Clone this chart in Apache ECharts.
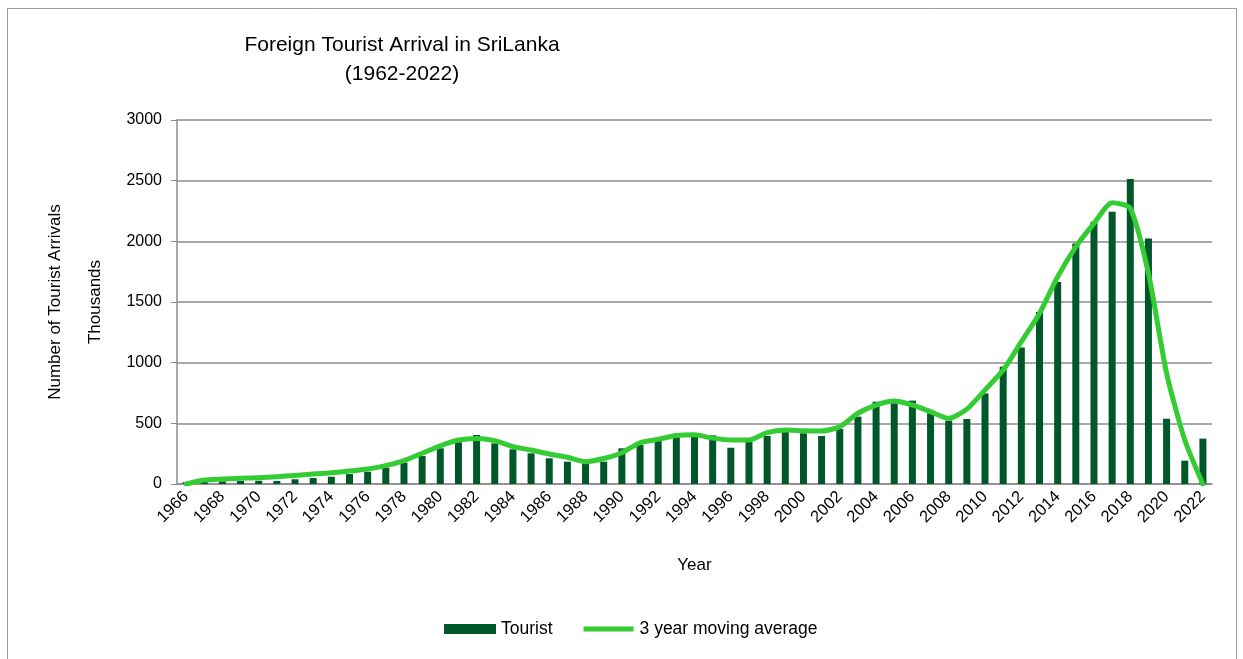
<!DOCTYPE html>
<html>
<head>
<meta charset="utf-8">
<script src="https://cdn.jsdelivr.net/npm/echarts@6/dist/echarts.min.js"></script>
<style>
	html, body { margin: 0; padding: 0; background: #fff; }
	#chart { width: 1243px; height: 659px; }
</style>
</head>
<body>
<div id="chart"></div>
<script>
	// years on the category axis
	var years = [
		"1966", "1967", "1968", "1969", "1970", "1971", "1972", "1973", "1974", "1975",
		"1976", "1977", "1978", "1979", "1980", "1981", "1982", "1983", "1984", "1985",
		"1986", "1987", "1988", "1989", "1990", "1991", "1992", "1993", "1994", "1995",
		"1996", "1997", "1998", "1999", "2000", "2001", "2002", "2003", "2004", "2005",
		"2006", "2007", "2008", "2009", "2010", "2011", "2012", "2013", "2014", "2015",
		"2016", "2017", "2018", "2019", "2020", "2021", "2022"
	];

	// tourist arrivals, thousands
	var tourist = [
		15, 20, 22, 25, 27, 25, 39, 49, 60, 82,
		101, 134, 176, 231, 294, 344, 404, 335, 286, 253,
		212, 184, 170, 184, 294, 321, 382, 390, 400, 401,
		299, 354, 396, 459, 418, 396, 453, 555, 678, 665,
		687, 583, 522, 536, 747, 967, 1126, 1417, 1664, 1983,
		2162, 2244, 2513, 2024, 538, 192, 374
	];

	// 3 year moving average, thousands
	var movingAvg = [
		0, 33, 41, 47, 52, 60, 71, 82, 93, 107,
		124, 151, 192, 253, 315, 363, 376, 357, 308, 280,
		247, 220, 184, 210, 258, 340, 368, 400, 405, 378,
		363, 363, 423, 445, 439, 437, 472, 583, 651, 684,
		651, 596, 541, 617, 775, 939, 1173, 1406, 1708, 1955,
		2148, 2318, 2272, 1736, 912, 363, 0
	];

	var font = "Liberation Sans, Arial, sans-serif";
	var chart = echarts.init(document.getElementById("chart"));

	chart.setOption({
		animation: false,
		textStyle: { fontFamily: font, color: "#000" },
		title: {
			text: "Foreign Tourist Arrival in SriLanka\n(1962-2022)",
			left: 397,
			top: 26,
			textAlign: "center",
			textStyle: {
				fontFamily: font,
				fontSize: 21,
				fontWeight: "normal",
				color: "#000",
				lineHeight: 29
			}
		},
		legend: {
			left: 439,
			top: 615,
			itemWidth: 52,
			itemHeight: 10,
			itemGap: 30,
			textStyle: { fontFamily: font, fontSize: 17.5, color: "#000" },
			data: [
				{ name: "Tourist", icon: "rect" },
				{
					name: "3 year moving average",
					// thin band inside a 52x10 box, so the icon looks like the line
					icon: "path://M0,0 M52,10 M1,2.5 L51,2.5 L51,7.5 L1,7.5 Z",
					itemStyle: { color: "#33cc33" }
				}
			]
		},
		graphic: [{
			type: "rect",
			shape: { x: 7.5, y: 8.5, width: 1229, height: 700 },
			style: { fill: "none", stroke: "#9a9a9a", lineWidth: 1 },
			silent: true
		}],
		grid: { left: 177, right: 31, top: 120, bottom: 175 },
		xAxis: {
			type: "category",
			data: years,
			name: "Year",
			nameLocation: "middle",
			nameGap: 73,
			nameTextStyle: { fontFamily: font, fontSize: 17, color: "#000" },
			axisLine: { lineStyle: { color: "#8c8c8c", width: 1.5 } },
			axisTick: { show: false },
			axisLabel: {
				interval: 1,
				rotate: 45,
				fontSize: 16.5,
				color: "#000",
				margin: 10
			}
		},
		yAxis: {
			type: "value",
			min: 0,
			max: 3000,
			interval: 500,
			name: "Number of Tourist Arrivals\nThousands",
			nameLocation: "middle",
			nameRotate: 90,
			nameGap: 60,
			nameTextStyle: { fontFamily: font, fontSize: 17, color: "#000", lineHeight: 40 },
			axisLine: { show: true, lineStyle: { color: "#8c8c8c", width: 1.5 } },
			axisTick: { show: true, length: 6, lineStyle: { color: "#8c8c8c" } },
			axisLabel: {
				fontSize: 16,
				color: "#000",
				margin: 15,
				formatter: function (v) { return String(v); }
			},
			splitLine: { lineStyle: { color: "#8c8c8c", width: 1.5 } }
		},
		series: [{
			name: "Tourist",
			type: "bar",
			data: tourist,
			barWidth: 7,
			itemStyle: { color: "#00582a" }
		}, {
			name: "3 year moving average",
			type: "line",
			data: movingAvg,
			smooth: 0.22,
			symbol: "none",
			lineStyle: { color: "#33cc33", width: 5, cap: "round", join: "round" },
			itemStyle: { color: "#33cc33" }
		}]
	});
</script>
</body>
</html>
